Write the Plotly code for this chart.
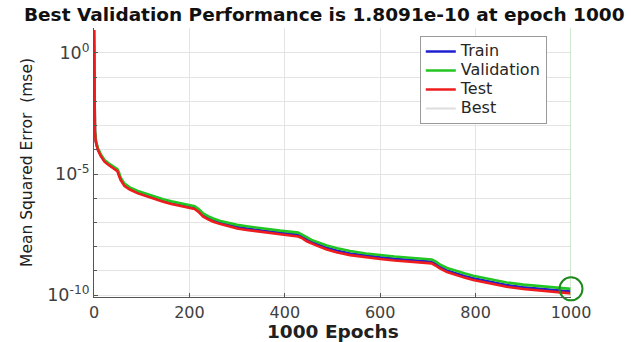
import plotly.graph_objects as go

# Training record read per epoch checkpoint (log10 of mean squared error)
epochs = [0, 1, 2, 4, 8, 14, 22, 30, 40, 49, 52, 56, 64, 75, 92, 110, 127, 145, 162, 185,
          211, 220, 229, 240, 250, 265, 285, 300, 320, 355, 390, 428, 437, 446, 456, 467,
          488, 510, 537, 570, 600, 630, 662, 690, 708, 716, 725, 740, 760, 778, 795, 830,
          865, 900, 935, 965, 1000]

train_log10 = [0.95, -1.9, -3.25, -3.67, -3.97, -4.22, -4.46, -4.59, -4.74, -4.85, -5.0, -5.21,
               -5.46, -5.6, -5.76, -5.88, -6.0, -6.1, -6.19, -6.28, -6.39, -6.53, -6.7, -6.82,
               -6.91, -7.01, -7.12, -7.19, -7.25, -7.35, -7.43, -7.51, -7.59, -7.71, -7.81,
               -7.89, -8.05, -8.17, -8.28, -8.37, -8.44, -8.5, -8.55, -8.59, -8.62, -8.71,
               -8.83, -8.98, -9.12, -9.22, -9.31, -9.46, -9.59, -9.68, -9.75, -9.81, -9.86]

val_log10 = [0.95, -1.8, -3.2, -3.62, -3.93, -4.18, -4.42, -4.55, -4.7, -4.8, -4.92, -5.15,
             -5.4, -5.55, -5.7, -5.82, -5.94, -6.04, -6.13, -6.22, -6.33, -6.46, -6.63, -6.75,
             -6.84, -6.94, -7.04, -7.1, -7.16, -7.26, -7.34, -7.42, -7.5, -7.61, -7.72, -7.8,
             -7.95, -8.07, -8.18, -8.28, -8.35, -8.41, -8.46, -8.5, -8.53, -8.61, -8.73,
             -8.88, -9.01, -9.11, -9.2, -9.35, -9.48, -9.57, -9.64, -9.69, -9.7425]

test_log10 = [0.95, -2.0, -3.3, -3.7, -4.0, -4.25, -4.49, -4.62, -4.77, -4.88, -5.05, -5.25,
              -5.5, -5.64, -5.8, -5.92, -6.05, -6.15, -6.24, -6.33, -6.44, -6.58, -6.76, -6.88,
              -6.97, -7.07, -7.18, -7.25, -7.31, -7.41, -7.49, -7.58, -7.66, -7.78, -7.88,
              -7.96, -8.12, -8.24, -8.35, -8.44, -8.51, -8.57, -8.62, -8.66, -8.69, -8.78,
              -8.9, -9.05, -9.19, -9.29, -9.38, -9.53, -9.66, -9.75, -9.82, -9.88, -9.93]

best_epoch = 1000
best_perf = 1.8091e-10

x_ticks = [0, 200, 400, 600, 800, 1000]
y_ticks = [1e-10, 1e-5, 1e0]
y_tick_text = ["10<sup>-10</sup>", "10<sup>-5</sup>", "10<sup>0</sup>"]
y_grid = [10.0 ** k for k in range(-10, 2)]
y_log_range = [-10.08, 1.03]


def to_mse(logs):
    return [10.0 ** v for v in logs]


def legend_name(text):
    # larger label text inside a compact legend row
    return f'<span style="font-size:16px">{text}</span>'


FONT = "DejaVu Sans, Verdana, sans-serif"

fig = go.Figure()
fig.add_trace(go.Scatter(x=epochs, y=to_mse(train_log10), mode="lines",
                         name=legend_name("Train"),
                         line=dict(color="#1f1fd0", width=2.6)))
fig.add_trace(go.Scatter(x=epochs, y=to_mse(val_log10), mode="lines",
                         name=legend_name("Validation"),
                         line=dict(color="#22c622", width=2.6)))
fig.add_trace(go.Scatter(x=epochs, y=to_mse(test_log10), mode="lines",
                         name=legend_name("Test"),
                         line=dict(color="#ee1c1c", width=2.6)))
# legend entry for the best-epoch markers
fig.add_trace(go.Scatter(x=[None], y=[None], mode="lines", name=legend_name("Best"),
                         line=dict(color="#dedede", width=2)))
# vertical line at the best epoch
fig.add_trace(go.Scatter(x=[best_epoch, best_epoch],
                         y=[10 ** y_log_range[0], 10 ** y_log_range[1]],
                         mode="lines", showlegend=False, hoverinfo="skip",
                         line=dict(color="#bfe3bf", width=1.5)))
# circle on best validation performance
fig.add_trace(go.Scatter(x=[best_epoch], y=[best_perf], mode="markers", showlegend=False,
                         cliponaxis=False,
                         marker=dict(symbol="circle-open", size=23,
                                     line=dict(color="#1e8a1e", width=2),
                                     color="#1e8a1e")))

title_text = f"Best Validation Performance is {best_perf:.4e} at epoch {best_epoch}"

fig.update_layout(
    width=631, height=342,
    margin=dict(l=94, r=60, t=28, b=45),
    paper_bgcolor="white", plot_bgcolor="white",
    font=dict(family=FONT, color="#404040", size=14),
    title=dict(text=f"<b>{title_text}</b>",
               x=0.038, xref="container", xanchor="left", y=0.958, yref="container",
               yanchor="middle", font=dict(size=18.5, color="#111111", family=FONT)),
    showlegend=True,
    legend=dict(x=0.683, y=0.97, xanchor="left", yanchor="top",
                bgcolor="white", bordercolor="#9a9a9a", borderwidth=1,
                font=dict(size=11, color="#262626", family=FONT),
                tracegroupgap=0, itemwidth=30),
    annotations=[
        dict(text="<b>1000 Epochs</b>", xref="paper", yref="paper", x=0.5, y=-0.127,
             xanchor="center", yanchor="middle", showarrow=False,
             font=dict(size=18.5, color="#202020", family=FONT)),
    ],
)

fig.update_xaxes(
    range=[0, 1000], tickvals=x_ticks, ticks="inside", ticklen=4,
    tickcolor="#555555", showline=True, linecolor="#555555", linewidth=1,
    showgrid=True, gridcolor="#e4e4e4", gridwidth=1, zeroline=False,
    tickfont=dict(size=16, color="#404040"), ticklabelstandoff=1,
    automargin=False,
)

fig.update_yaxes(
    type="log", range=y_log_range, tickvals=y_ticks, ticktext=y_tick_text,
    ticks="inside", ticklen=4, tickcolor="#555555",
    showline=True, linecolor="#555555", linewidth=1,
    showgrid=True, gridcolor="#e4e4e4", gridwidth=1, zeroline=False,
    minor=dict(tickvals=y_grid, showgrid=True, gridcolor="#e4e4e4", ticks="inside",
               ticklen=3, tickcolor="#555555"),
    tickfont=dict(size=17.5, color="#404040"),
    automargin=False,
    title=dict(text="Mean Squared Error  (mse)", font=dict(size=15.5, color="#202020"),
               standoff=10),
)

fig.write_html("out.html")
